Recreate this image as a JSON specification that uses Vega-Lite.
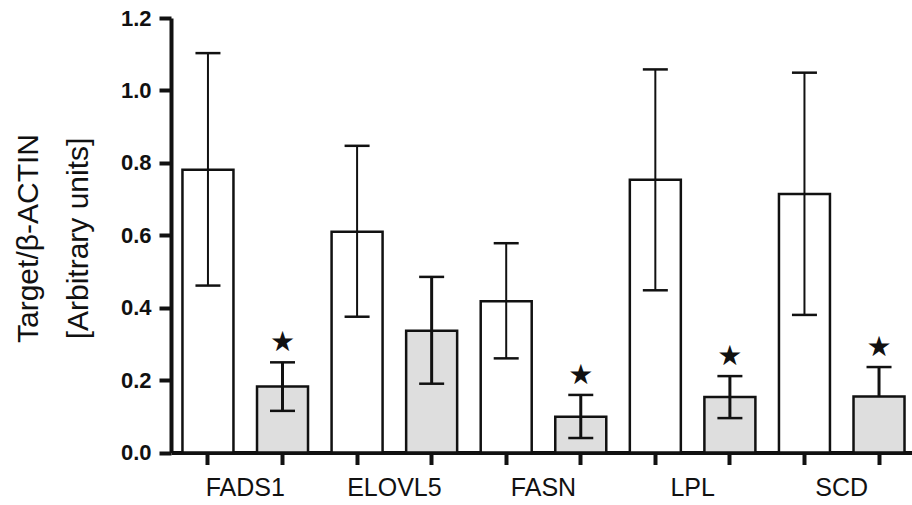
{
  "$schema": "https://vega.github.io/schema/vega-lite/v6.json",
  "autosize": {"type": "none"},
  "padding": {"left": 171, "top": 18, "right": 0, "bottom": 52.5},
  "width": 741,
  "height": 434.5,
  "background": "white",
  "config": {
    "view": {"stroke": null},
    "font": "Liberation Sans",
    "axis": {"grid": false, "domainColor": "#111111", "tickColor": "#111111", "labelColor": "#111111", "titleColor": "#111111"}
  },
  "data": {
    "values": [
      {"bar": "FADS1|1", "gene": "FADS1", "group": "control", "value": 0.781, "low": 0.461, "high": 1.103, "sig": 0},
      {"bar": "FADS1|2", "gene": "FADS1", "group": "treated", "value": 0.182, "low": 0.115, "high": 0.249, "sig": 1},
      {"bar": "ELOVL5|1", "gene": "ELOVL5", "group": "control", "value": 0.610, "low": 0.375, "high": 0.847, "sig": 0},
      {"bar": "ELOVL5|2", "gene": "ELOVL5", "group": "treated", "value": 0.336, "low": 0.190, "high": 0.485, "sig": 0},
      {"bar": "FASN|1", "gene": "FASN", "group": "control", "value": 0.418, "low": 0.260, "high": 0.578, "sig": 0},
      {"bar": "FASN|2", "gene": "FASN", "group": "treated", "value": 0.099, "low": 0.040, "high": 0.159, "sig": 1},
      {"bar": "LPL|1", "gene": "LPL", "group": "control", "value": 0.753, "low": 0.448, "high": 1.058, "sig": 0},
      {"bar": "LPL|2", "gene": "LPL", "group": "treated", "value": 0.153, "low": 0.095, "high": 0.211, "sig": 1},
      {"bar": "SCD|1", "gene": "SCD", "group": "control", "value": 0.714, "low": 0.380, "high": 1.049, "sig": 0},
      {"bar": "SCD|2", "gene": "SCD", "group": "treated", "value": 0.155, "low": 0.155, "high": 0.236, "sig": 1}
    ]
  },
  "encoding": {
    "x": {
      "field": "bar",
      "type": "nominal",
      "sort": null,
      "scale": {"paddingInner": 0.316, "paddingOuter": 0.127, "align": 0.605},
      "axis": {
        "title": null,
        "labelAngle": 0,
        "labelExpr": "slice(datum.value, -1) == '1' ? slice(datum.value, 0, -2) : ''",
        "labelOffset": 37.3,
        "labelOverlap": false,
        "labelFontSize": 25,
        "labelPadding": 11,
        "tickSize": 12,
        "tickWidth": 4,
        "domainWidth": 4
      }
    }
  },
  "layer": [
    {
      "mark": {"type": "bar", "stroke": "#111111", "strokeWidth": 2.5},
      "encoding": {
        "y": {
          "field": "value",
          "type": "quantitative",
          "scale": {"domain": [0, 1.2], "nice": false, "zero": true},
          "axis": {
            "values": [0, 0.2, 0.4, 0.6, 0.8, 1.0, 1.2],
            "format": ".1f",
            "title": ["Target/β-ACTIN", "[Arbitrary units]"],
            "titleFontSize": 30,
            "titleFontWeight": "normal",
            "titleAngle": -90,
            "titleAlign": "center",
            "titleBaseline": "alphabetic",
            "titleLineHeight": 50,
            "titleX": -134,
            "titleY": 220,
            "labelFontSize": 22,
            "labelFontWeight": "bold",
            "labelPadding": 8,
            "tickSize": 12,
            "tickWidth": 4,
            "domainWidth": 4
          }
        },
        "fill": {
          "field": "group",
          "type": "nominal",
          "scale": {"domain": ["control", "treated"], "range": ["#ffffff", "#dedede"]},
          "legend": null
        }
      }
    },
    {
      "mark": {"type": "rule", "color": "#111111"},
      "encoding": {
        "y": {"field": "low", "type": "quantitative"},
        "y2": {"field": "high"},
        "strokeWidth": {
          "field": "group",
          "type": "nominal",
          "scale": {"domain": ["control", "treated"], "range": [2, 3]},
          "legend": null
        }
      }
    },
    {
      "mark": {"type": "tick", "color": "#111111", "size": 25, "thickness": 2.5, "opacity": 1},
      "encoding": {
        "y": {"field": "high", "type": "quantitative"}
      }
    },
    {
      "transform": [{"filter": "datum.low < datum.value"}],
      "mark": {"type": "tick", "color": "#111111", "size": 25, "thickness": 2.5, "opacity": 1},
      "encoding": {
        "y": {"field": "low", "type": "quantitative"}
      }
    },
    {
      "transform": [{"filter": "datum.sig == 1"}],
      "mark": {"type": "text", "text": "★", "font": "DejaVu Sans", "fontSize": 28, "baseline": "middle", "dy": -19, "color": "#111111"},
      "encoding": {
        "y": {"field": "high", "type": "quantitative"}
      }
    }
  ]
}
